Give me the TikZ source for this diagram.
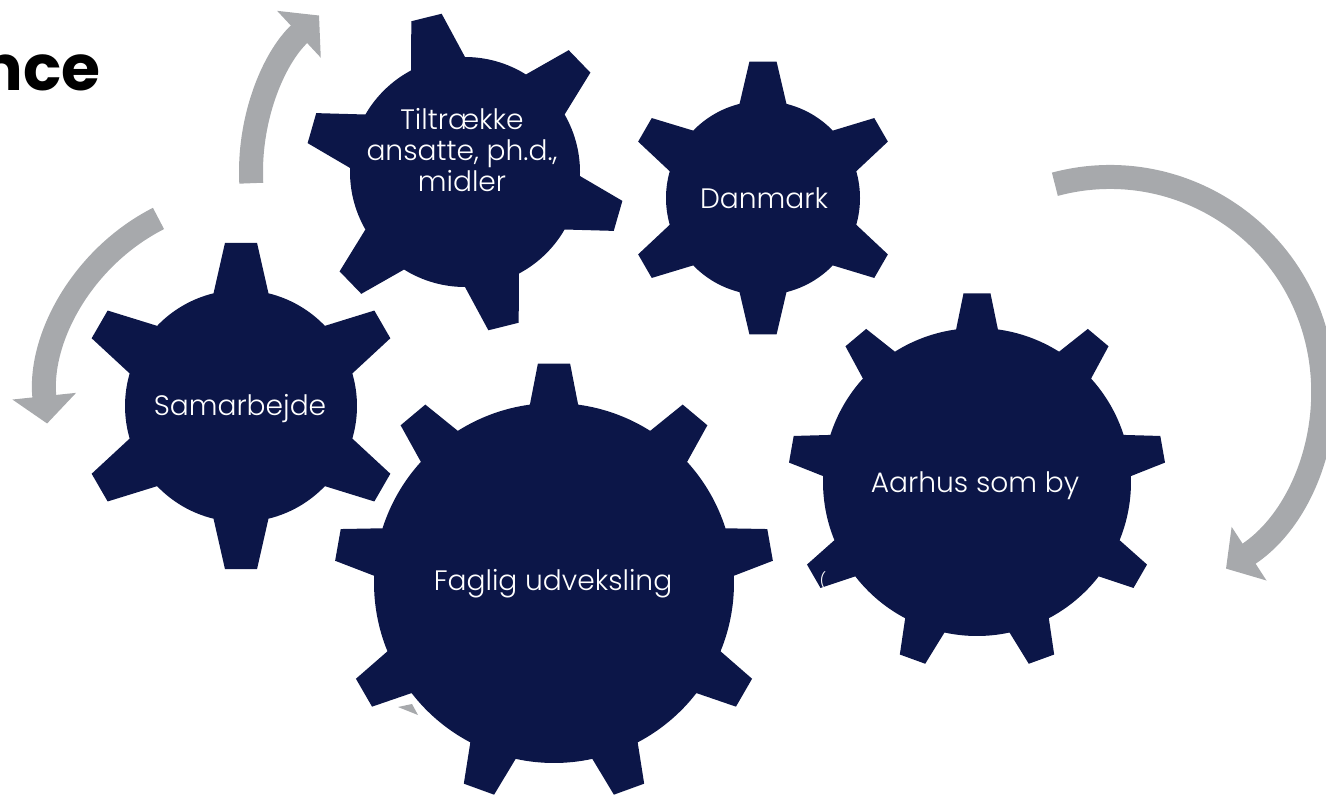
\documentclass[tikz,border=0pt]{standalone}
\usepackage{fontspec}
\setmainfont{Poppins}[UprightFont={* Light},BoldFont={* Bold}]
\usetikzlibrary{arrows.meta}
\definecolor{navy}{RGB}{12,22,72}
\definecolor{arrowgrey}{RGB}{167,169,172}

\begin{document}
\begin{tikzpicture}[x=0.02cm, y=-0.02cm,
  gearfill/.style={fill=navy},
  geartext/.style={text=white, font=\fontsize{16}{17.6}\selectfont, align=center, inner sep=0pt},
  turn/.style={draw=arrowgrey, line width=0.48cm, -{Triangle[width=1.25cm,length=0.55cm]}}]

% Page
\useasboundingbox (0,0) rectangle (1326,801);
\clip (0,0) rectangle (1326,801);

% Gear: centre, teeth, body radius, tip radius, base half angle, tip half angle, first tooth
\def\gear#1#2#3#4#5#6#7{%
  \pgfmathsetmacro\gstep{360/#2}
  \fill[gearfill, shift={(#1)}] ({#7-#5}:#3)
    \foreach \k in {1,...,#2}{
      -- ({#7+(\k-1)*\gstep-#6}:#4) -- ({#7+(\k-1)*\gstep+#6}:#4)
      -- ({#7+(\k-1)*\gstep+#5}:#3)
      arc[start angle={#7+(\k-1)*\gstep+#5}, end angle={#7+\k*\gstep-#5}, radius=#3]
    } -- cycle;
}

% Arrows
\draw[turn] (465,172) ++(177:214) arc[start angle=177, end angle=227, radius=214];
\draw[turn] (252,402) ++(243:206) arc[start angle=243, end angle=174, radius=206];
\draw[turn] (1110,390) ++(-105:213) arc[start angle=-105, end angle=57, radius=213];
\fill[arrowgrey] (398,707) -- (412,704) -- (418,715) -- (413,713) -- cycle;

% Gear centres
\coordinate (samarbejde-c) at (241,406);
\coordinate (tiltraekke-c) at (465,172);
\coordinate (danmark-c) at (763,198);
\coordinate (faglig-c) at (554,583);
\coordinate (aarhus-c) at (977,482);

% Gears
\gear{samarbejde-c}{6}{116}{164}{13.7}{5.6}{90}
\gear{tiltraekke-c}{6}{115}{160}{14}{5.6}{16}
\gear{danmark-c}{6}{97}{137}{14}{5.7}{90}
\gear{faglig-c}{9}{180}{220}{7.7}{4.2}{270}
\gear{aarhus-c}{9}{154}{189}{7.8}{4.1}{270}

% Labels
\node[geartext, anchor=base] (samarbejde) at (240,415) {Samarbejde};
\node[geartext] (tiltraekke) at (462,150) {Tiltrække\\ansatte, ph.d.,\\midler};
\node[geartext, anchor=base] (danmark) at (764,208) {Danmark};
\node[geartext, anchor=base] (faglig) at (553,590) {Faglig udveksling};
\node[geartext, anchor=base] (aarhus) at (975,492) {Aarhus som by};
\node[text=white, font=\fontsize{9}{9}\selectfont, inner sep=0pt] (stray) at (823,581) {(};

% Title
\node[font=\fontsize{36}{36}\selectfont\bfseries, anchor=base east, inner sep=0pt] (title) at (101,90) {nce};

\end{tikzpicture}
\end{document}
